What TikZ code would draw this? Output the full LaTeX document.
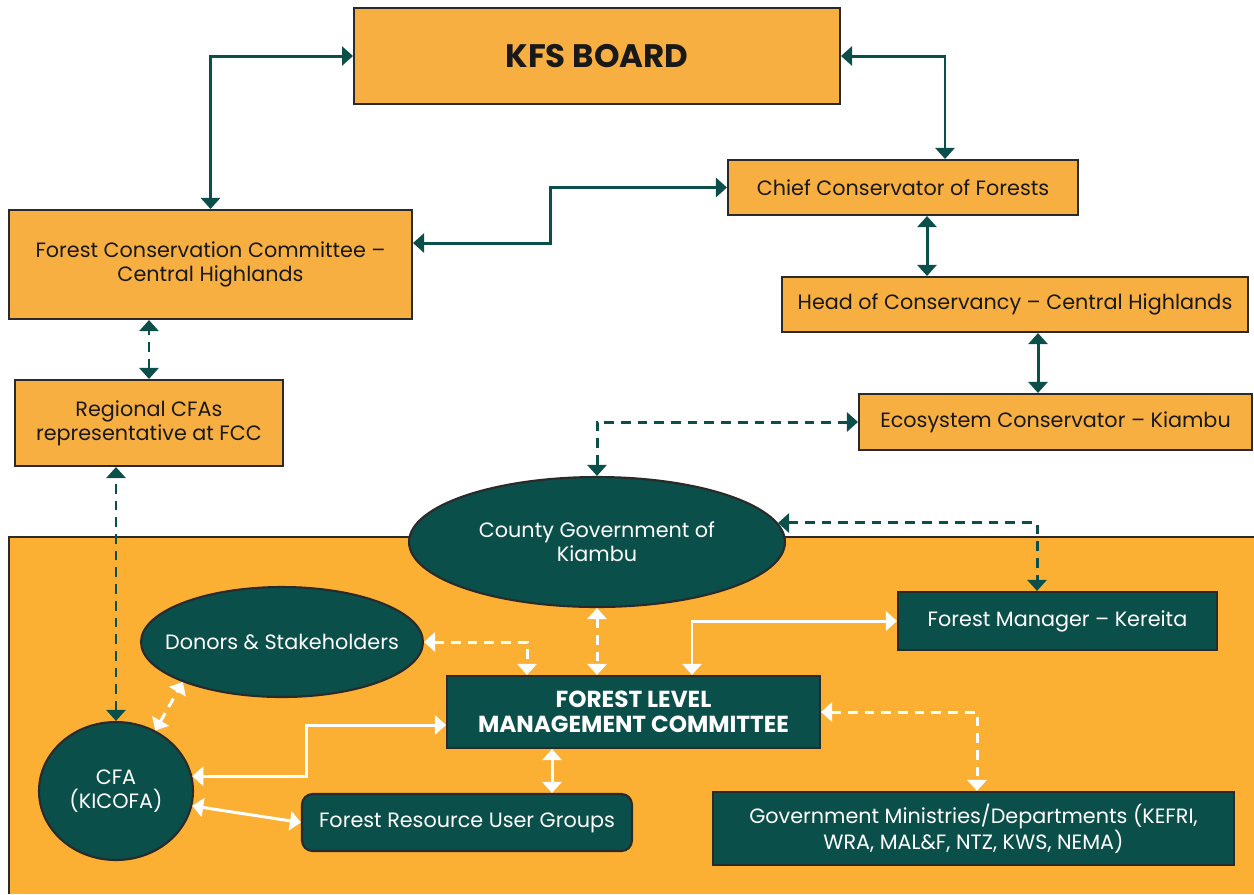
\documentclass[tikz,border=0pt]{standalone}
\usepackage{fontspec}
\setmainfont{Poppins}
\usetikzlibrary{shapes.geometric,arrows.meta}
\definecolor{orng}{HTML}{F8AF42}
\definecolor{bgor}{HTML}{FBB034}
\definecolor{dgreen}{HTML}{0B4F4A}
\definecolor{bord}{HTML}{2A2A2A}
\begin{document}
\begin{tikzpicture}[x=0.02cm,y=-0.02cm,
  txt/.style={font=\fontsize{11.8}{13.6}\selectfont},
  obox/.style={rectangle,draw=bord,line width=1.2pt,fill=orng,align=center,inner sep=0pt,text=black!90,txt},
  gbox/.style={rectangle,draw=bord,line width=1.2pt,fill=dgreen,align=center,inner sep=0pt,text=white,txt},
  gell/.style={ellipse,draw=bord,line width=1.2pt,fill=dgreen,align=center,inner sep=0pt,inner xsep=-1.5cm,text=white,txt},
  tipd/.style={{Triangle[width=0.38cm,length=0.22cm]}-{Triangle[width=0.38cm,length=0.22cm]}},
  conn/.style={draw=dgreen,line width=1.7pt,tipd},
  wconn/.style={draw=white,line width=1.7pt,tipd},
  dsh/.style={dash pattern=on 5.5pt off 4pt}
]
\useasboundingbox (0,0) rectangle (1254,894);
% background region
\fill[bgor] (9,537) rectangle (1254,894);
\draw[bord,line width=1.2pt] (9,894) -- (9,537) -- (1254,537);

% top orange boxes
\node[obox,minimum width=9.72cm,minimum height=1.92cm,font=\fontsize{18.5}{22}\selectfont\bfseries] (kfs) at (597,56) {KFS BOARD};
\node[obox,minimum width=7.0cm,minimum height=1.1cm] (chief) at (903,187.5) {Chief Conservator of Forests};
\node[obox,minimum width=8.06cm,minimum height=2.18cm] (fcc) at (210.5,264.5) {Forest Conservation Committee --\\Central Highlands};
\node[obox,minimum width=9.32cm,minimum height=1.1cm] (head) at (1015,304.5) {Head of Conservancy -- Central Highlands};
\node[obox,minimum width=7.86cm,minimum height=1.12cm] (eco) at (1055.5,422) {Ecosystem Conservator -- Kiambu};
\node[obox,minimum width=5.36cm,minimum height=1.72cm] (reg) at (149,423) {Regional CFAs\\representative at FCC};

% green nodes
\node[gell,minimum width=7.52cm,minimum height=2.6cm] (county) at (597,542) {County Government of\\Kiambu};
\node[gell,minimum width=5.64cm,minimum height=2.2cm] (donors) at (282,642) {Donors \& Stakeholders};
\node[gell,inner xsep=0pt,minimum width=3.08cm,minimum height=2.76cm] (cfa) at (116,791) {CFA\\(KICOFA)};
\node[gbox,minimum width=7.46cm,minimum height=1.44cm,font=\fontsize{13.2}{14}\selectfont\bfseries] (flmc) at (633.5,712) {FOREST LEVEL\\MANAGEMENT COMMITTEE};
\node[gbox,minimum width=6.38cm,minimum height=1.16cm] (fm) at (1057.5,621) {Forest Manager -- Kereita};
\node[gbox,rounded corners=6pt,minimum width=6.6cm,minimum height=1.14cm] (frug) at (467,822.5) {Forest Resource User Groups};
\node[gbox,minimum width=10.42cm,minimum height=1.46cm] (gov) at (973.5,828.5) {Government Ministries/Departments (KEFRI,\\WRA, MAL\&F, NTZ, KWS, NEMA)};

% dark connectors
\draw[conn] (kfs.west) -| (fcc.north);
\draw[conn] (kfs.east) -| ([xshift=0.84cm]chief.north);
\draw[conn] (chief.west) -- ++(-176,0) |- ([yshift=0.43cm]fcc.east);
\draw[conn,dsh] (reg.north) -- (reg.north |- fcc.south);
\draw[conn] ([xshift=0.48cm]chief.south) -- ([xshift=0.48cm]chief.south |- head.north);
\draw[conn] ([xshift=-0.35cm]eco.north) -- ([xshift=-0.35cm]eco.north |- head.south);
\draw[conn,dsh] (eco.west) -| (county.north);
\draw[conn,dsh] (cfa.north) -- (cfa.north |- reg.south);
\draw[conn,dsh] (county.6) -| ([xshift=-0.41cm]fm.north);

% white connectors
\draw[wconn,dsh] (county.south) -- (county.south |- flmc.north);
\draw[wconn,dsh] (donors.east) -| ([xshift=-2.13cm]flmc.north);
\draw[wconn] (fm.west) -| ([xshift=1.17cm]flmc.north);
\draw[wconn,dsh] (flmc.east) -| ([xshift=0.07cm]gov.north);
\draw[wconn] ([xshift=-1.63cm]flmc.south) -- ([xshift=-1.63cm]flmc.south |- frug.north);
\draw[wconn] (cfa.11) -- ++(114,0) |- ([yshift=-0.26cm]flmc.west);
\draw[wconn] (cfa.-11) -- (frug.west);
\draw[wconn,dsh] (cfa.57) -- (donors.202);
\end{tikzpicture}
\end{document}
